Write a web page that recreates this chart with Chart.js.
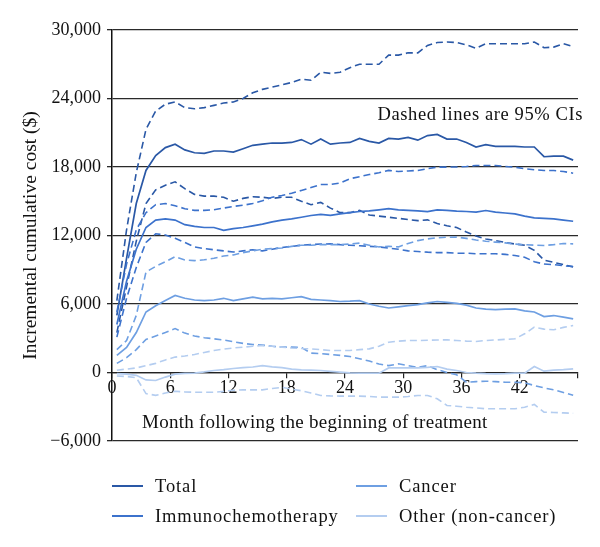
<!DOCTYPE html>
<html>
<head>
<meta charset="utf-8">
<script src="https://cdn.jsdelivr.net/npm/chart.js@4.4.1/dist/chart.umd.min.js"></script>
<style>
  html, body { margin: 0; padding: 0; background: #fff; }
  #wrap { position: relative; width: 600px; height: 547px; font-family: "Liberation Serif", "DejaVu Serif", serif; color: #111; }
  #c { position: absolute; left: 0; top: 0; }
  #note { position: absolute; right: 17px; top: 104px; font-size: 18.5px; letter-spacing: 0.6px; white-space: nowrap; }
  #xtitle { position: absolute; left: 142px; top: 410px; font-size: 19px; letter-spacing: 0.25px; white-space: nowrap; line-height: 24px; }
  #legend { position: absolute; left: 112px; top: 474px; display: grid; grid-template-columns: 244px 220px; row-gap: 6px; font-size: 18.5px; letter-spacing: 0.9px; }
  .item { display: flex; align-items: center; height: 24px; white-space: nowrap; }
  .swatch { display: inline-block; width: 31px; height: 0; border-top: 2px solid; margin-right: 12px; }
</style>
</head>
<body>
<div id="wrap">
  <canvas id="c" width="600" height="547"></canvas>
  <div id="note">Dashed lines are 95% CIs</div>
  <div id="xtitle"></div>
  <div id="legend"></div>
</div>
<script>
// x positions: each monthly value is drawn at the middle of its month
const months = [0.5,1.5,2.5,3.5,4.5,5.5,6.5,7.5,8.5,9.5,10.5,11.5,12.5,13.5,14.5,15.5,16.5,17.5,18.5,19.5,20.5,21.5,22.5,23.5,24.5,25.5,26.5,27.5,28.5,29.5,30.5,31.5,32.5,33.5,34.5,35.5,36.5,37.5,38.5,39.5,40.5,41.5,42.5,43.5,44.5,45.5,46.5,47.5];

const seriesNames = ["Total", "Immunochemotherapy", "Cancer", "Other (non-cancer)"];
const legendOrder = ["Total", "Cancer", "Immunochemotherapy", "Other (non-cancer)"];
const xTickValues = [0, 6, 12, 18, 24, 30, 36, 42];
const yTickValues = [-6000, 0, 6000, 12000, 18000, 24000, 30000];
const xAxisTitle = "Month following the beginning of treatment";
const yAxisTitle = "Incremental cumulative cost ($)";

const totalMean = [5000,10000,14800,17700,19000,19700,20000,19500,19250,19200,19400,19400,19300,19600,19900,20000,20100,20100,20150,20400,20000,20450,20000,20100,20150,20500,20250,20100,20500,20450,20600,20350,20750,20850,20450,20450,20150,19750,19950,19800,19800,19800,19750,19750,18900,18950,18950,18600];
const totalUpper = [6300,12500,17500,21300,22900,23500,23700,23200,23100,23200,23400,23600,23700,24000,24500,24800,25000,25200,25400,25700,25600,26300,26200,26300,26700,27000,27000,27000,27800,27800,28000,28000,28650,28900,28950,28900,28700,28400,28800,28800,28800,28800,28800,28950,28450,28500,28800,28550];
const totalLower = [3500,7500,11500,14800,16000,16400,16700,16100,15600,15450,15450,15350,15000,15250,15400,15350,15250,15350,15350,15000,14700,14900,14400,14000,14000,14200,13800,13700,13600,13500,13400,13300,13370,13050,12850,12700,12300,11950,11700,11550,11400,11250,11150,10700,9850,9650,9450,9250];

const immunoMean = [4200,8000,10800,12700,13350,13450,13350,12950,12800,12700,12700,12450,12600,12700,12850,13000,13200,13350,13450,13600,13750,13850,13770,13900,14000,14100,14150,14250,14350,14250,14200,14150,14100,14250,14200,14130,14100,14050,14190,14050,13970,13900,13700,13550,13500,13460,13350,13250];
const immunoUpper = [5300,9500,12500,14000,14700,14800,14600,14350,14200,14200,14250,14400,14550,14650,14800,15050,15350,15500,15700,15950,16200,16470,16470,16600,16970,17150,17340,17500,17700,17600,17650,17700,17850,17990,17990,18000,18050,18130,18130,18130,18050,17990,17850,17760,17700,17700,17600,17460];
const immunoLower = [3100,6500,9200,11400,12150,12050,11750,11400,11000,10850,10750,10650,10550,10650,10750,10650,10800,10950,11050,11150,11200,11250,11270,11200,11150,11100,11050,11000,10900,10800,10650,10600,10540,10500,10500,10450,10450,10400,10400,10400,10350,10250,10100,9700,9500,9450,9350,9280];

const cancerMean = [1500,2200,3500,5300,5850,6300,6750,6500,6350,6300,6350,6500,6300,6450,6600,6450,6500,6450,6550,6650,6400,6350,6300,6220,6250,6300,6000,5800,5650,5750,5850,5950,6100,6220,6150,6050,5900,5650,5550,5500,5550,5580,5400,5300,4900,4990,4850,4700];
const cancerUpper = [2000,2800,5000,8800,9300,9700,10150,9850,9800,9870,10000,10200,10300,10500,10650,10800,10850,10900,11050,11150,11150,11200,11200,11200,11250,11330,11150,11000,11050,11000,11300,11550,11700,11800,11850,11860,11750,11600,11500,11420,11350,11250,11200,11150,11130,11200,11300,11270];
const cancerLower = [800,1300,2000,2900,3200,3500,3850,3450,3200,3050,2950,2850,2700,2550,2450,2400,2300,2220,2220,2200,1700,1650,1580,1500,1400,1200,1000,750,600,760,600,450,600,250,0,-200,-850,-800,-760,-800,-850,-850,-900,-1140,-1350,-1520,-1750,-2000];

const otherMean = [-100,-150,-250,-650,-700,-400,-150,-80,-50,50,175,250,350,420,480,600,500,430,300,235,200,175,100,30,-30,-60,-60,-60,400,410,410,410,450,525,300,175,0,-60,-100,-120,-100,-60,-60,525,115,200,250,320];
const otherUpper = [200,300,400,600,800,1100,1350,1450,1580,1750,1930,2050,2150,2220,2300,2370,2300,2220,2150,2100,2070,2000,1930,1930,1930,2000,2070,2300,2650,2750,2800,2800,2820,2850,2860,2800,2750,2720,2800,2850,2900,2950,3390,3970,3800,3740,3950,4120];
const otherLower = [-300,-350,-450,-1850,-2000,-1800,-1640,-1700,-1730,-1730,-1730,-1650,-1550,-1520,-1520,-1520,-1400,-1300,-1450,-1600,-1800,-2010,-2050,-2070,-2070,-2070,-2100,-2160,-2160,-2160,-2100,-2010,-2010,-2300,-2890,-2950,-3040,-3100,-3180,-3180,-3180,-3180,-3040,-2800,-3480,-3500,-3540,-3570];

const colors = {
  "Total": "#2a58a6",
  "Immunochemotherapy": "#3c72cc",
  "Cancer": "#6e9fe2",
  "Other (non-cancer)": "#b4cdf0"
};

const groups = [
  { name: "Total", mean: totalMean, upper: totalUpper, lower: totalLower },
  { name: "Immunochemotherapy", mean: immunoMean, upper: immunoUpper, lower: immunoLower },
  { name: "Cancer", mean: cancerMean, upper: cancerUpper, lower: cancerLower },
  { name: "Other (non-cancer)", mean: otherMean, upper: otherUpper, lower: otherLower }
];

function pts(vals) { return vals.map((v, i) => ({ x: months[i], y: v })); }

const datasets = [];
// draw lightest first so darker lines sit on top
groups.slice().reverse().forEach(g => {
  const col = colors[g.name];
  datasets.push({ label: g.name + " upper", data: pts(g.upper), borderColor: col, borderWidth: 1.6, borderDash: [7, 4], pointRadius: 0, tension: 0, fill: false });
  datasets.push({ label: g.name + " lower", data: pts(g.lower), borderColor: col, borderWidth: 1.6, borderDash: [7, 4], pointRadius: 0, tension: 0, fill: false });
  datasets.push({ label: g.name, data: pts(g.mean), borderColor: col, borderWidth: 1.7, pointRadius: 0, tension: 0, fill: false });
});

const FONT = "'Liberation Serif', 'DejaVu Serif', serif";

new Chart(document.getElementById("c"), {
  type: "line",
  data: { datasets },
  options: {
    responsive: false,
    animation: false,
    devicePixelRatio: 1,
    layout: { padding: { top: 30, right: 22, bottom: 106, left: 0 } },
    plugins: { legend: { display: false }, tooltip: { enabled: false } },
    scales: {
      x: {
        type: "linear",
        position: { y: 0 },
        min: 0, max: 48,
        afterBuildTicks: s => { s.ticks = xTickValues.concat([48]).map(v => ({ value: v })); },
        ticks: {
          callback: v => (xTickValues.includes(v) ? String(v) : ""),
          font: { family: FONT, size: 18 }, color: "#111", padding: 0, maxRotation: 0, autoSkip: false
        },
        grid: { drawOnChartArea: false, drawTicks: true, tickLength: 5, color: "#222", lineWidth: 1.2 },
        border: { display: true, color: "#222", width: 1.2 },
        title: { display: false }
      },
      y: {
        min: -6000, max: 30000,
        afterBuildTicks: s => { s.ticks = yTickValues.map(v => ({ value: v })); },
        afterFit: s => { s.width = 112; },
        ticks: {
          callback: v => (v < 0 ? "\u2212" + Math.abs(v).toLocaleString("en-US") : v.toLocaleString("en-US")),
          font: { family: FONT, size: 18 }, color: "#111", padding: 6
        },
        grid: { color: "#2a2a2a", lineWidth: 1.3, drawTicks: true, tickLength: 5 },
        border: { display: true, color: "#111", width: 1.5 },
        title: { display: true, text: yAxisTitle, font: { family: FONT, size: 19.5 }, color: "#111", padding: { top: 19, bottom: 6 } }
      }
    }
  }
});

document.getElementById("xtitle").textContent = xAxisTitle;

const legend = document.getElementById("legend");
legendOrder.forEach(name => {
  const d = document.createElement("div");
  d.className = "item";
  const s = document.createElement("span");
  s.className = "swatch";
  s.style.borderTopColor = colors[name];
  d.appendChild(s);
  d.appendChild(document.createTextNode(name));
  legend.appendChild(d);
});
</script>
</body>
</html>
